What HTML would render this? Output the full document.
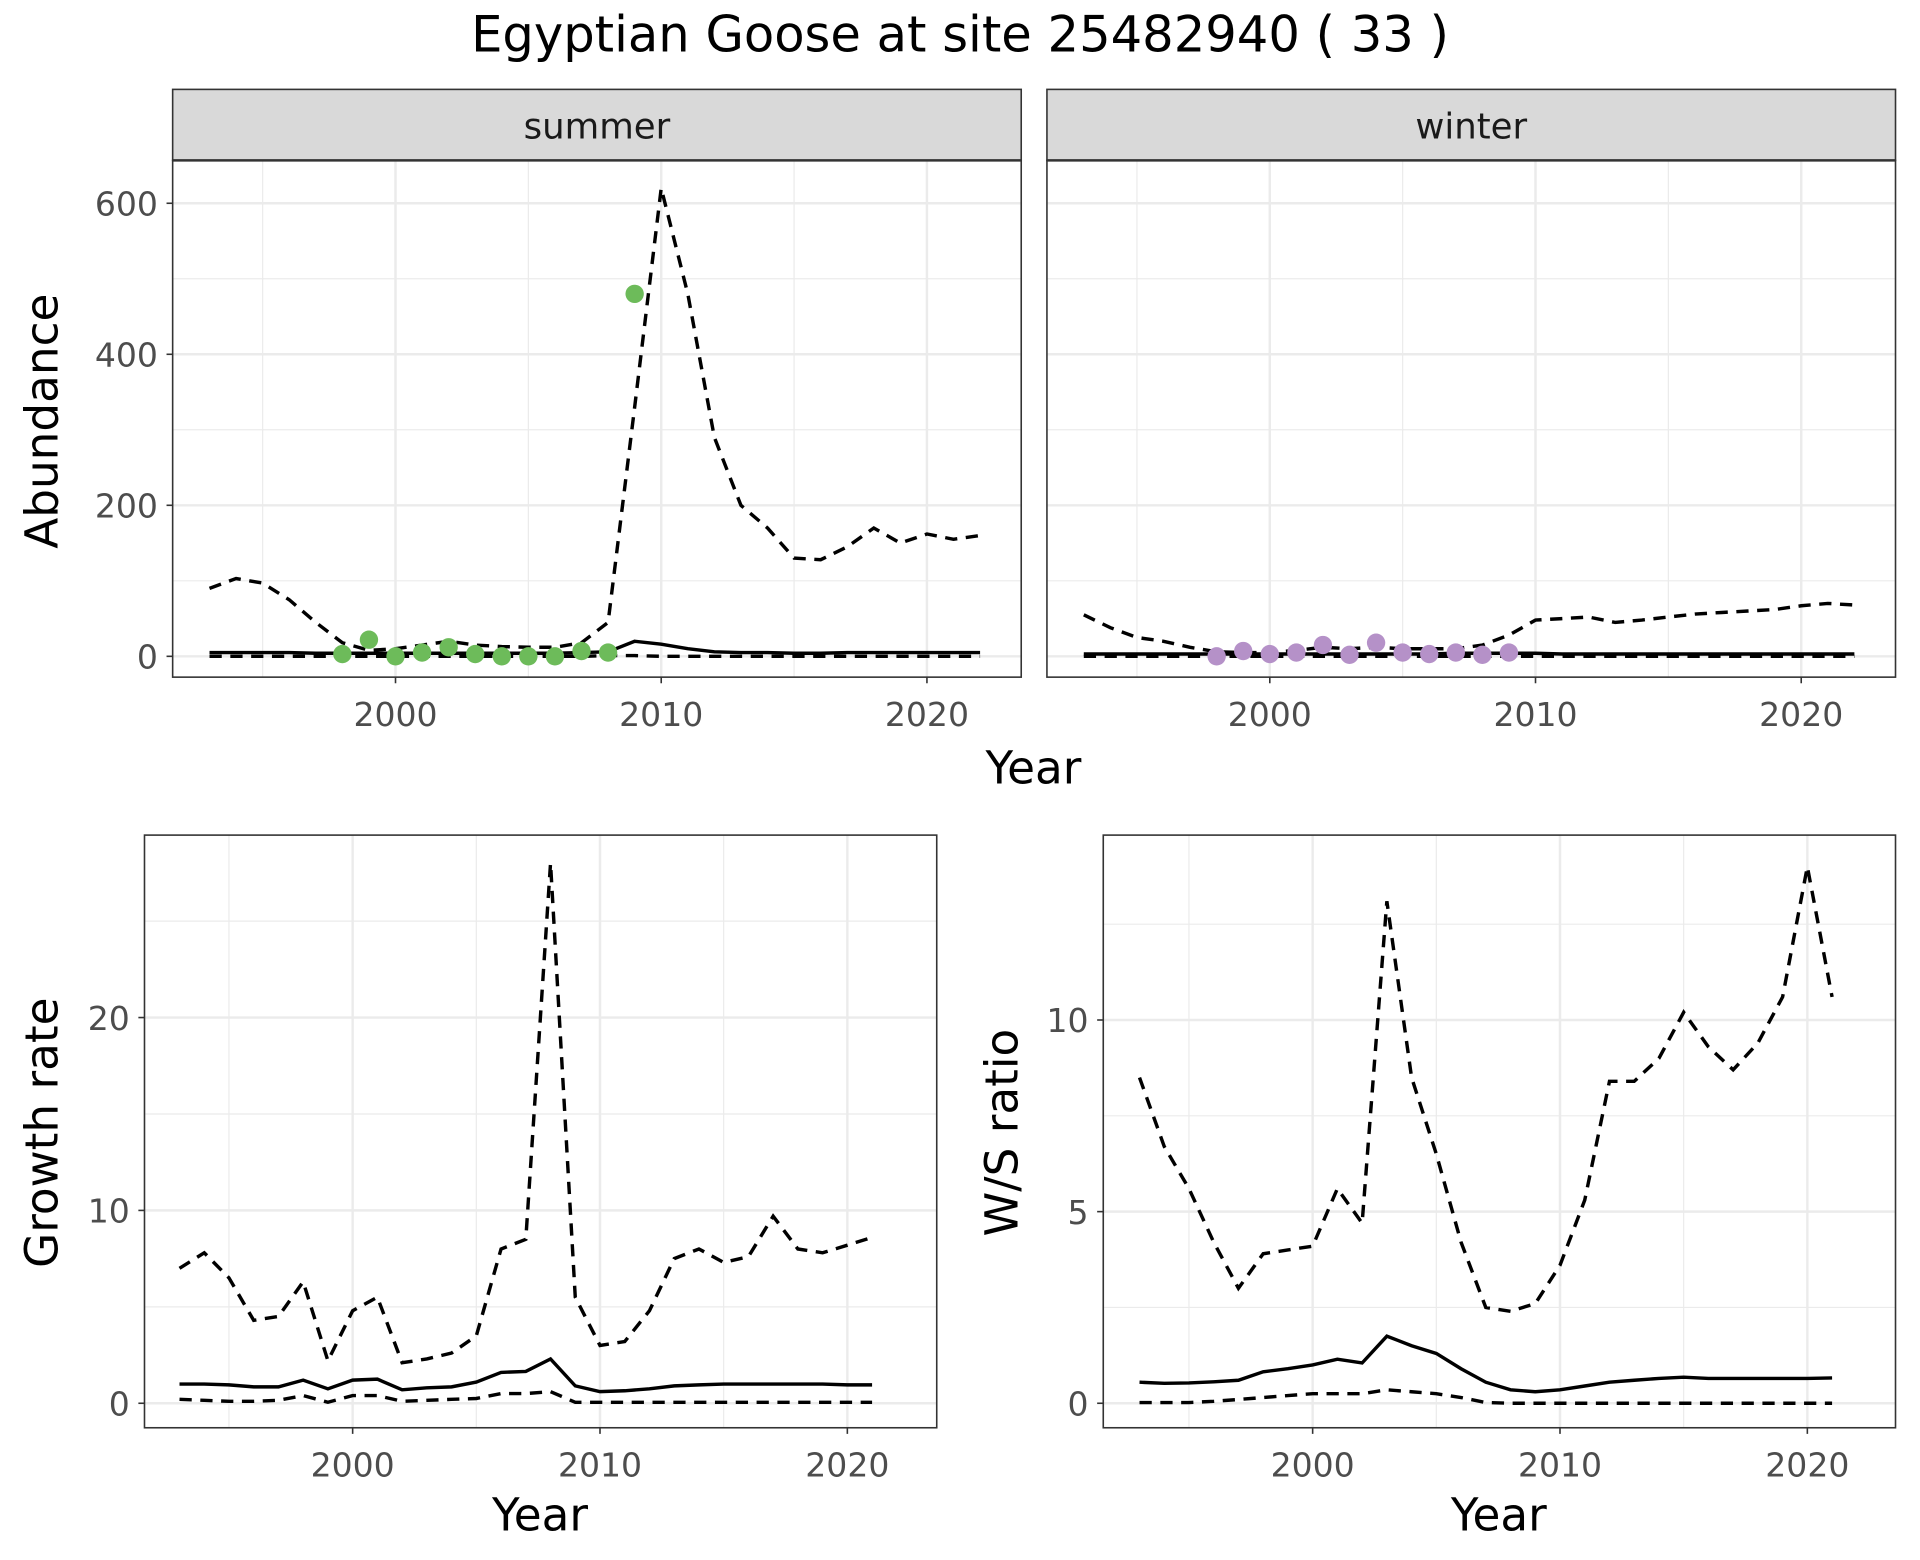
<!DOCTYPE html>
<html><head><meta charset="utf-8"><style>
html,body{margin:0;padding:0;background:#fff}
svg{display:block}
text{font-family:"DejaVu Sans","Liberation Sans",sans-serif}
</style></head><body>
<svg id="chart" width="1920" height="1560" viewBox="0 0 1568 1274" xmlns="http://www.w3.org/2000/svg">
<rect x="0" y="0" width="1568" height="1274" fill="#fff"/>
<text x="784" y="42" font-size="40.5" text-anchor="middle" fill="#000">Egyptian Goose at site 25482940 ( 33 )</text>
<g id="root"></g>
</svg>
<script>
const years = [1993,1994,1995,1996,1997,1998,1999,2000,2001,2002,2003,2004,2005,2006,2007,2008,2009,2010,2011,2012,2013,2014,2015,2016,2017,2018,2019,2020,2021,2022];
const summerUpper = [90,103,97,75,45,18,8,10,15,20,15,13,12,12,18,45,330,620,480,290,200,170,130,128,145,170,150,162,155,160];
const summerMid = [5,5,5,5,4,4,4,4,4,4,4,4,4,4,5,6,20,16,10,6,5,5,4,4,5,5,5,5,5,5];
const summerLower = [0,0,0,0,0,0,0,0,0,0,0,0,0,0,0,1,1,0,0,0,0,0,0,0,0,0,0,0,0,0];
const summerObsYears = [1998,1999,2000,2001,2002,2003,2004,2005,2006,2007,2008,2009];
const summerObs = [3,22,0,5,12,3,0,0,0,7,5,480];
const winterUpper = [55,38,25,20,12,6,5,5,8,12,10,12,10,10,10,15,28,48,50,52,45,48,52,56,58,60,62,67,70,68];
const winterMid = [3,3,3,3,3,3,3,3,3,3,3,3,3,3,4,4,4,4,3,3,3,3,3,3,3,3,3,3,3,3];
const winterLower = [0,0,0,0,0,0,0,0,0,0,0,0,0,0,0,0,0,0,0,0,0,0,0,0,0,0,0,0,0,0];
const winterObsYears = [1998,1999,2000,2001,2002,2003,2004,2005,2006,2007,2008,2009];
const winterObs = [0,7,3,5,15,2,18,5,3,5,2,5];
const years2 = [1993,1994,1995,1996,1997,1998,1999,2000,2001,2002,2003,2004,2005,2006,2007,2008,2009,2010,2011,2012,2013,2014,2015,2016,2017,2018,2019,2020,2021];
const growthUpper = [7,7.8,6.5,4.3,4.5,6.3,2.2,4.8,5.5,2.1,2.3,2.6,3.5,8.0,8.5,28,5.5,3.0,3.2,4.8,7.5,8.0,7.3,7.6,9.7,8.0,7.8,8.2,8.6];
const growthMid = [1.0,1.0,0.95,0.85,0.85,1.2,0.75,1.2,1.25,0.7,0.8,0.85,1.1,1.6,1.65,2.3,0.9,0.6,0.65,0.75,0.9,0.95,1.0,1.0,1.0,1.0,1.0,0.95,0.95];
const growthLower = [0.2,0.15,0.1,0.1,0.15,0.4,0.05,0.4,0.4,0.1,0.15,0.2,0.25,0.5,0.5,0.6,0.05,0.05,0.05,0.05,0.05,0.05,0.05,0.05,0.05,0.05,0.05,0.05,0.05];
const wsUpper = [8.5,6.7,5.6,4.2,3.0,3.9,4.0,4.1,5.6,4.7,13.1,8.5,6.5,4.2,2.5,2.4,2.6,3.6,5.3,8.4,8.4,9.0,10.2,9.3,8.7,9.4,10.6,14.0,10.6];
const wsMid = [0.55,0.52,0.53,0.56,0.6,0.82,0.9,1.0,1.15,1.05,1.75,1.5,1.3,0.9,0.55,0.35,0.3,0.35,0.45,0.55,0.6,0.65,0.68,0.65,0.65,0.65,0.65,0.65,0.66];
const wsLower = [0.02,0.02,0.02,0.05,0.1,0.15,0.2,0.25,0.25,0.25,0.35,0.3,0.25,0.15,0.02,0.0,0.0,0.0,0.0,0.0,0.0,0.0,0.0,0.0,0.0,0.0,0.0,0.0,0.0];
const xTicks = [2000,2010,2020];
const xMinor = [1995,2005,2015];
const abundTicks = [0,200,400,600];
const abundMinor = [100,300,500];
const growthTicks = [0,10,20];
const growthMinor = [5,15,25];
const wsTicks = [0,5,10];
const wsMinor = [2.5,7.5,12.5];

const NS='http://www.w3.org/2000/svg';
const root=document.getElementById('root');
function mk(tag,attrs,parent){const e=document.createElementNS(NS,tag);for(const k in attrs)e.setAttribute(k,attrs[k]);(parent||root).appendChild(e);return e;}

function panel(o){
  const g=mk('g',{});
  
  
  const sx=v=>o.x0+(v-o.xd0)/(o.xd1-o.xd0)*(o.x1-o.x0);
  const sy=v=>o.y1-(v-o.yd0)/(o.yd1-o.yd0)*(o.y1-o.y0);
  mk('rect',{x:o.x0,y:o.y0,width:o.x1-o.x0,height:o.y1-o.y0,fill:'#fff'},g);
  o.yMinor.forEach(v=>mk('line',{x1:o.x0,x2:o.x1,y1:sy(v),y2:sy(v),stroke:'#ebebeb','stroke-width':1},g));
  o.xMinor.forEach(v=>mk('line',{x1:sx(v),x2:sx(v),y1:o.y0,y2:o.y1,stroke:'#ebebeb','stroke-width':1},g));
  o.yTicks.forEach(v=>mk('line',{x1:o.x0,x2:o.x1,y1:sy(v),y2:sy(v),stroke:'#ebebeb','stroke-width':2},g));
  xTicks.forEach(v=>mk('line',{x1:sx(v),x2:sx(v),y1:o.y0,y2:o.y1,stroke:'#ebebeb','stroke-width':2},g));
  const path=arr=>o.xs.map((x,i)=>(i?'L':'M')+sx(x).toFixed(1)+','+sy(arr[i]).toFixed(1)).join('');
  o.lines.forEach(l=>{
    const p=mk('path',{d:path(l.data),fill:'none',stroke:'#000','stroke-width':2.8,'stroke-dasharray':l.dash?'10,7':'none'},g);
    
    
  });
  if(o.pts){o.ptsX.forEach((x,i)=>{
    const c=mk('circle',{cx:sx(x),cy:sy(o.pts[i]),r:7.5,fill:o.ptColor},g);
    
    
  });}
  mk('rect',{x:o.x0,y:o.y0,width:o.x1-o.x0,height:o.y1-o.y0,fill:'none',stroke:'#333','stroke-width':1.3},g);
  if(o.yLabels){o.yTicks.forEach(v=>{
    mk('line',{x1:o.x0-5,x2:o.x0,y1:sy(v),y2:sy(v),stroke:'#333','stroke-width':1.3},g);
    const t=mk('text',{x:o.x0-12,y:sy(v)+10,'font-size':27,'text-anchor':'end',fill:'#4d4d4d'},g);t.textContent=v;
    
    
  });}
  xTicks.forEach(v=>{
    mk('line',{x1:sx(v),x2:sx(v),y1:o.y1,y2:o.y1+5,stroke:'#333','stroke-width':1.3},g);
    const t=mk('text',{x:sx(v),y:o.y1+40,'font-size':27,'text-anchor':'middle',fill:'#4d4d4d'},g);t.textContent=v;
    
    
  });
  if(o.strip){
    mk('rect',{x:o.x0,y:o.y0-58,width:o.x1-o.x0,height:58,fill:'#d9d9d9',stroke:'#333','stroke-width':1.3},g);
    mk('line',{x1:o.x0,x2:o.x1,y1:o.y0,y2:o.y0,stroke:'#333','stroke-width':2},g);
    const t=mk('text',{x:(o.x0+o.x1)/2,y:o.y0-18,'font-size':29,'text-anchor':'middle',fill:'#1a1a1a'},g);t.textContent=o.strip;
    
    
  }
}
function label(txt,x,y,rot,name){
  const t=mk('text',{x:x,y:y,'font-size':37,'text-anchor':'middle',fill:'#000',transform:rot?`rotate(-90 ${x} ${y})`:''});
  t.textContent=txt;
  
  
}
const xd0=2000-(323-141)/21.7, xd1=2020+(834-757)/21.7;
const yd0=-(553-536)/(370/600), yd1=600+(166-131)/(370/600);
panel({name:'summer-panel',x0:141,x1:834,y0:131,y1:553,xd0:xd0,xd1:xd1,yd0:yd0,yd1:yd1,xMinor:xMinor,yMinor:abundMinor,yTicks:abundTicks,yLabels:true,xs:years,
  lines:[{data:summerUpper,dash:true,name:'summer-upper-ci'},{data:summerLower,dash:true,name:'summer-lower-ci'},{data:summerMid,dash:false,name:'summer-trend'}],
  pts:summerObs,ptsX:summerObsYears,ptColor:'#6dbb5a',strip:'summer'});
panel({name:'winter-panel',x0:855,x1:1548,y0:131,y1:553,xd0:xd0,xd1:xd1,yd0:yd0,yd1:yd1,xMinor:xMinor,yMinor:abundMinor,yTicks:abundTicks,yLabels:false,xs:years,
  lines:[{data:winterUpper,dash:true,name:'winter-upper-ci'},{data:winterLower,dash:true,name:'winter-lower-ci'},{data:winterMid,dash:false,name:'winter-trend'}],
  pts:winterObs,ptsX:winterObsYears,ptColor:'#b591c8',strip:'winter'});
label('Abundance',47,344,true,'y-axis-title-abundance');
label('Year',844,640,false,'x-axis-title-top');
const gx0=2000-(288-118)/20.2, gx1=2020+(765-692)/20.2;
const gpu=15.75;
panel({name:'growth-rate-panel',x0:118,x1:765,y0:682,y1:1166,xd0:gx0,xd1:gx1,yd0:-(1166-1146)/gpu,yd1:(1146-682)/gpu,xMinor:xMinor,yMinor:growthMinor,yTicks:growthTicks,yLabels:true,xs:years2,
  lines:[{data:growthUpper,dash:true,name:'growth-upper-ci'},{data:growthLower,dash:true,name:'growth-lower-ci'},{data:growthMid,dash:false,name:'growth-trend'}]});
label('Growth rate',47,925,true,'y-axis-title-growth');
label('Year',441,1250,false,'x-axis-title-growth');
const wx0=2000-(1072-901)/20.2, wx1=2020+(1548-1476)/20.2;
const wpu=31.3;
panel({name:'ws-ratio-panel',x0:901,x1:1548,y0:682,y1:1166,xd0:wx0,xd1:wx1,yd0:-(1166-1146)/wpu,yd1:(1146-682)/wpu,xMinor:xMinor,yMinor:wsMinor,yTicks:wsTicks,yLabels:true,xs:years2,
  lines:[{data:wsUpper,dash:true,name:'ws-upper-ci'},{data:wsLower,dash:true,name:'ws-lower-ci'},{data:wsMid,dash:false,name:'ws-trend'}]});
label('W/S ratio',831,925,true,'y-axis-title-ws');
label('Year',1224,1250,false,'x-axis-title-ws');
</script>
</body></html>
